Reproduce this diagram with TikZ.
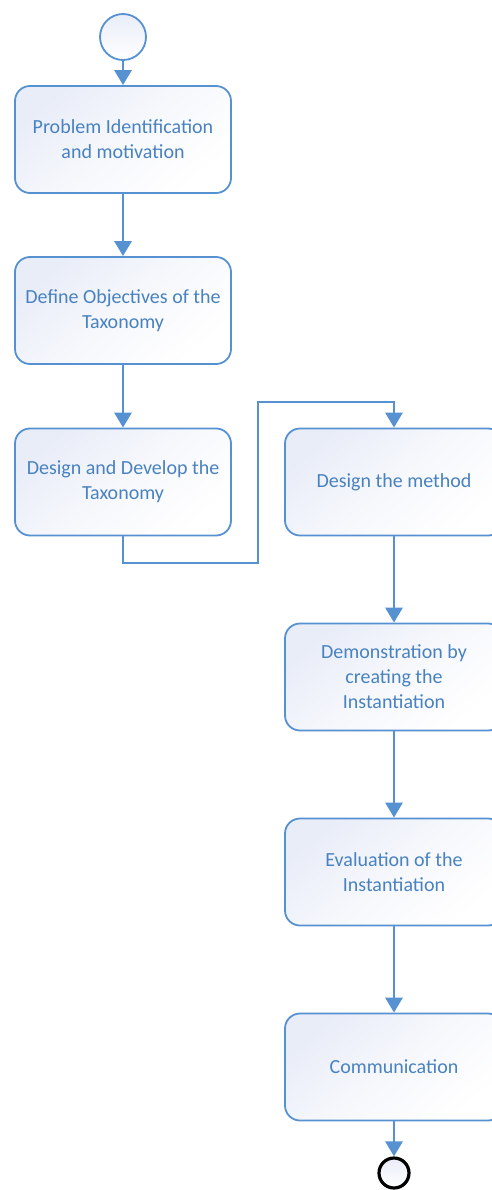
\documentclass[tikz,border=0pt]{standalone}
\usepackage{fontspec}
\setmainfont{Carlito}
\usetikzlibrary{arrows.meta}
\definecolor{flowline}{RGB}{86,145,210}
\definecolor{flowtext}{RGB}{72,130,192}
\definecolor{flowfill}{RGB}{233,237,248}
\tikzset{
  stepbox/.style={draw=flowline, line width=1.8pt, rounded corners=15pt,
    minimum width=216pt, minimum height=107pt, align=center,
    text=flowtext, font=\fontsize{20pt}{25pt}\selectfont,
    top color=flowfill, bottom color=white, middle color=white!60!flowfill,
    shading angle=40},
  flow/.style={draw=flowline, line width=2.8pt,
    -{Triangle[width=17pt,length=15pt]}},
  startnode/.style={circle, draw=flowline, line width=1.8pt, minimum size=46pt,
    top color=flowfill, bottom color=white, inner sep=0pt},
  endnode/.style={circle, draw=black, line width=3.2pt, minimum size=30pt,
    top color=flowfill, bottom color=white, inner sep=0pt}
}
\begin{document}
\begin{tikzpicture}[x=1pt, y=-1pt]
\useasboundingbox (0,0) rectangle (492,1190);
\begin{scope}
\clip (0,0) rectangle (492,1190);
\node[startnode] (start) at (123,37) {};
\node[stepbox] (pi) at (123,139.5) {Problem Identification\\and motivation};
\node[stepbox] (obj) at (123,310.5) {Define Objectives of the\\Taxonomy};
\node[stepbox] (dev) at (123,482) {Design and Develop the\\Taxonomy};
\node[stepbox, minimum width=218pt] (meth) at (394,482) {Design the method};
\node[stepbox, minimum width=218pt] (demo) at (394,677) {Demonstration by\\creating the\\Instantiation};
\node[stepbox, minimum width=218pt] (eval) at (394,872) {Evaluation of the\\Instantiation};
\node[stepbox, minimum width=218pt] (comm) at (394,1067) {Communication};
\node[endnode] (finish) at (394,1173) {};
\coordinate (c1) at (123,563);
\coordinate (c2) at (258,563);
\coordinate (c3) at (258,402);
\coordinate (c4) at (394,402);
\draw[flow] (start) -- (pi);
\draw[flow] (pi) -- (obj);
\draw[flow] (obj) -- (dev);
\draw[flow] (dev.south) -- (c1) -- (c2) -- (c3) -- (c4) -- (meth.north);
\draw[flow] (meth) -- (demo);
\draw[flow] (demo) -- (eval);
\draw[flow] (eval) -- (comm);
\draw[flow] (comm) -- (finish);
\end{scope}
\end{tikzpicture}
\end{document}
